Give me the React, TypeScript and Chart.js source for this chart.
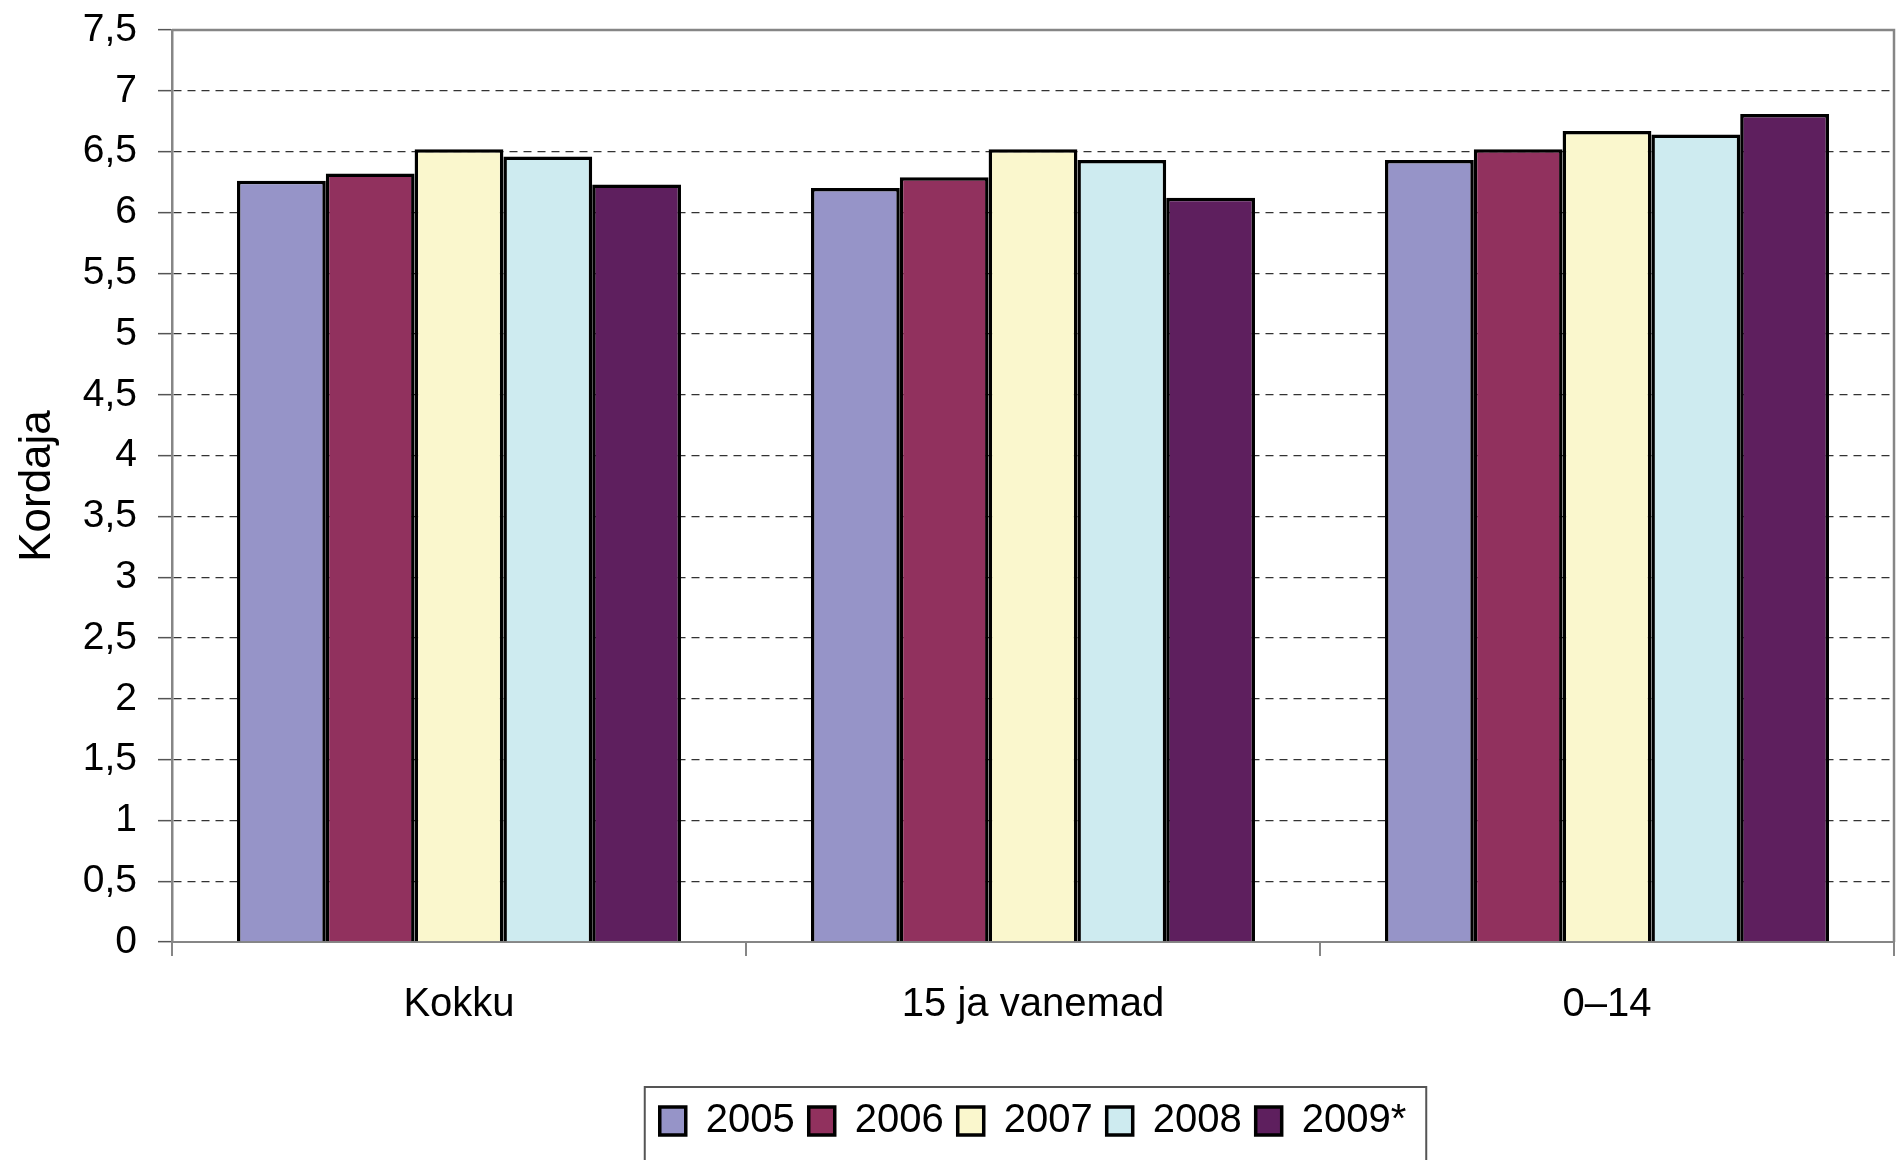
import React, { useEffect, useRef } from "react";
import { Chart, registerables } from "chart.js";

Chart.register(...registerables);

const categories = ["Kokku", "15 ja vanemad", "0–14"];
const seriesLabels = ["2005", "2006", "2007", "2008", "2009*"];
const values2005 = [6.26, 6.2, 6.43];
const values2006 = [6.32, 6.29, 6.52];
const values2007 = [6.52, 6.52, 6.67];
const values2008 = [6.46, 6.43, 6.64];
const values2009 = [6.23, 6.12, 6.81];
const yTickLabels = [
  "0", "0,5", "1", "1,5", "2", "2,5", "3", "3,5",
  "4", "4,5", "5", "5,5", "6", "6,5", "7", "7,5",
];
const seriesColors = ["#9694c8", "#91315e", "#faf7cd", "#ceebf0", "#5e1f5e"];
const yTitle = "Kordaja";

const FONT = "'Liberation Sans', Arial, Helvetica, sans-serif";

const framePlugin = {
  id: "frame",
  afterDraw(chart: any) {
    const { ctx, chartArea } = chart;
    ctx.save();
    ctx.strokeStyle = "#868686";
    ctx.lineWidth = 2.5;
    ctx.beginPath();
    ctx.moveTo(chartArea.left, chartArea.top);
    ctx.lineTo(chartArea.right, chartArea.top);
    ctx.lineTo(chartArea.right, chartArea.bottom);
    ctx.stroke();
    // legend border
    const legend = chart.legend;
    if (legend && legend.legendHitBoxes && legend.legendHitBoxes.length) {
      const hb = legend.legendHitBoxes;
      const first = hb[0];
      const last = hb[hb.length - 1];
      const left = first.left - 15;
      const right = last.left + last.width + 20;
      const top = legend.top;
      ctx.strokeStyle = "#555555";
      ctx.lineWidth = 2;
      ctx.beginPath();
      ctx.moveTo(left, chart.height + 5);
      ctx.lineTo(left, top);
      ctx.lineTo(right, top);
      ctx.lineTo(right, chart.height + 5);
      ctx.stroke();
    }
    ctx.restore();
  },
};

export default function App() {
  const canvasRef = useRef<HTMLCanvasElement | null>(null);

  useEffect(() => {
    const canvas = canvasRef.current;
    if (!canvas) return;
    const allValues = [values2005, values2006, values2007, values2008, values2009];
    const chart = new Chart(canvas, {
      type: "bar",
      data: {
        labels: categories,
        datasets: seriesLabels.map((label, i) => ({
          label,
          data: allValues[i],
          backgroundColor: seriesColors[i],
          borderColor: "#000000",
          borderWidth: 3.5,
          categoryPercentage: 0.7735,
          barPercentage: 1,
        })),
      },
      options: {
        responsive: false,
        animation: false,
        devicePixelRatio: 1,
        layout: { padding: { top: 30, right: 9, bottom: 9, left: 0 } },
        plugins: {
          tooltip: { enabled: false },
          legend: {
            position: "bottom",
            fullSize: false,
            labels: {
              font: { family: FONT, size: 40 },
              color: "#000000",
              boxWidth: 26,
              boxHeight: 28,
              padding: 14,
            },
          },
        },
        scales: {
          x: {
            grid: {
              display: true,
              drawOnChartArea: false,
              drawTicks: true,
              tickLength: 14,
              color: "#868686",
              lineWidth: 2,
              offset: true,
            },
            border: { display: true, color: "#868686", width: 2 },
            ticks: {
              font: { family: FONT, size: 40 },
              color: "#000000",
              padding: 25,
              maxRotation: 0,
            },
            afterFit(scale: any) {
              scale.height = 145;
            },
          },
          y: {
            min: 0,
            max: 7.5,
            grid: {
              color: (ctx: any) =>
                ctx.tick && (ctx.tick.value === 0 || ctx.tick.value === 7.5)
                  ? "rgba(0,0,0,0)"
                  : "#333333",
              lineWidth: 1.3,
              tickColor: "#555555",
              tickLength: 14,
              tickWidth: 1.5,
              tickBorderDash: [],
            },
            border: { display: true, color: "#868686", width: 2.5, dash: [8, 6] },
            ticks: {
              stepSize: 0.5,
              font: { family: FONT, size: 39 },
              color: "#000000",
              padding: 21,
              callback: (_v: any, index: number) => yTickLabels[index],
            },
            title: {
              display: true,
              text: yTitle,
              font: { family: FONT, size: 44 },
              color: "#000000",
              padding: { top: 11, bottom: 0 },
            },
            afterFit(scale: any) {
              scale.width = 172;
              scale.paddingTop = 0;
              scale.paddingBottom = 0;
            },
          },
        },
      },
      plugins: [framePlugin],
    } as any);
    return () => chart.destroy();
  }, []);

  return (
    <div style={{ position: "absolute", left: 0, top: 0, width: 1903, height: 1160, background: "#ffffff" }}>
      <canvas ref={canvasRef} width={1903} height={1160} style={{ display: "block" }} />
    </div>
  );
}
